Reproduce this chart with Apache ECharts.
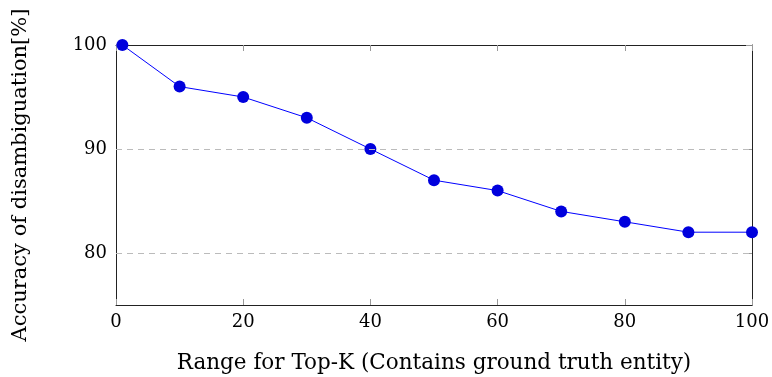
<!DOCTYPE html>
<html>
<head>
<meta charset="utf-8">
<script src="https://cdn.jsdelivr.net/npm/echarts@6/dist/echarts.min.js"></script>
<style>
  html, body { margin: 0; padding: 0; background: #fff; }
  #chart { width: 772px; height: 377px; }
</style>
</head>
<body>
<div id="chart"></div>
<script>
// top-k range vs accuracy
const topK = [1, 10, 20, 30, 40, 50, 60, 70, 80, 90, 100]
const accuracy = [100, 96, 95, 93, 90, 87, 86, 84, 83, 82, 82]
const yTicks = [80, 90, 100]
const gridLines = [80, 90]

const font = 'DejaVu Serif'
const chart = echarts.init(document.getElementById('chart'))

const xBase = {
  type: 'value',
  min: 0,
  max: 100,
  interval: 20,
  axisLine: { show: true, onZero: false, lineStyle: { color: '#222', width: 1 } },
  axisTick: { show: true, inside: true, length: 6, lineStyle: { color: '#999' } },
  splitLine: { show: false },
}
const yBase = {
  type: 'value',
  min: 75,
  max: 100,
  axisLine: { show: true, onZero: false, lineStyle: { color: '#222', width: 1 } },
  axisTick: { show: true, inside: true, length: 6, customValues: yTicks, lineStyle: { color: '#999' } },
  splitLine: { show: false },
}

chart.setOption({
  animation: false,
  grid: { left: 116, right: 20, top: 45, bottom: 72, outerBoundsMode: 'none' },
  xAxis: [
    {
      ...xBase,
      position: 'bottom',
      name: 'Range for Top-K (Contains ground truth entity)',
      nameLocation: 'middle',
      nameGap: 47,
      nameTextStyle: { fontFamily: font, fontSize: 21.5, color: '#000' },
      axisLabel: { fontFamily: font, fontSize: 18, color: '#000', margin: 8 },
    },
    { ...xBase, position: 'top', axisLabel: { show: false } },
  ],
  yAxis: [
    {
      ...yBase,
      position: 'left',
      name: 'Accuracy of disambiguation[%]',
      nameLocation: 'middle',
      nameGap: 85,
      nameTextStyle: { fontFamily: font, fontSize: 21, color: '#000' },
      axisLabel: { fontFamily: font, fontSize: 18, color: '#000', margin: 9, customValues: yTicks },
    },
    { ...yBase, position: 'right', axisLabel: { show: false } },
  ],
  series: [
    {
      type: 'line',
      data: topK.map((k, i) => [k, accuracy[i]]),
      symbol: 'circle',
      symbolSize: 12,
      lineStyle: { color: '#0000ff', width: 1 },
      itemStyle: { color: '#0000dd' },
      markLine: {
        silent: true,
        symbol: 'none',
        label: { show: false },
        lineStyle: { color: '#bbb', type: [6, 5], width: 1 },
        data: gridLines.map(v => ({ yAxis: v })),
      },
      z: 3,
    },
  ],
})
</script>
</body>
</html>
